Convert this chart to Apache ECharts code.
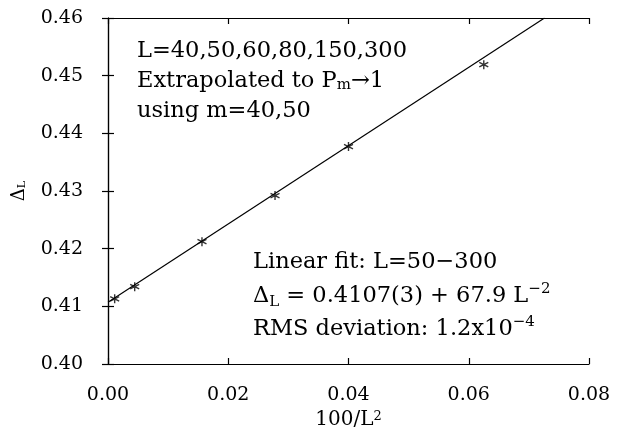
<!DOCTYPE html>
<html>
<head>
<meta charset="utf-8">
<script src="https://cdn.jsdelivr.net/npm/echarts@6/dist/echarts.min.js"></script>
<style>
html,body{margin:0;padding:0;background:#fff;}
#main{width:621px;height:431px;}
</style>
</head>
<body>
<div id="main"></div>
<script>
// Data
var xInvL2 = [0.00111, 0.00444, 0.01563, 0.02778, 0.04, 0.0625]; // 100/L^2 for L=300,150,80,60,50,40
var deltaL = [0.4113, 0.4134, 0.4212, 0.4292, 0.4377, 0.4519];
var fitX = [0, 0.0726];
var fitY = [0.4107, 0.46];
var xTicks = [0, 0.02, 0.04, 0.06, 0.08];
var yTicks = [0.40, 0.41, 0.42, 0.43, 0.44, 0.45, 0.46];

var FONT = 'DejaVu Serif';
var INK = '#000';
var pts = xInvL2.map(function (x, i) { return [x, deltaL[i]]; });
var fitPts = fitX.map(function (x, i) { return [x, fitY[i]]; });

var chart = echarts.init(document.getElementById('main'));
var axisLine = { show: true, lineStyle: { color: INK, width: 1.2 } };
var tick = { show: true, inside: true, length: 6, lineStyle: { color: INK, width: 1.2 } };

var AFS = 22.5;
function txt(x, y, text, rich) {
  return {
    type: 'text', left: x, top: y, z: 10,
    style: { text: text, rich: rich || undefined, fontFamily: FONT, fontSize: AFS, fill: INK }
  };
}
var richSub = {
  sub: { fontFamily: FONT, fontSize: 15, verticalAlign: 'bottom', fill: INK }
};
var richSup = {
  n: { fontFamily: FONT, fontSize: AFS, lineHeight: 28, fill: INK },
  sup: { fontFamily: FONT, fontSize: 15, verticalAlign: 'top', fill: INK },
  sub: { fontFamily: FONT, fontSize: 15, verticalAlign: 'bottom', fill: INK }
};

chart.setOption({
  animation: false,
  backgroundColor: '#fff',
  grid: { left: 108, right: 32, top: 18, bottom: 67, containLabel: false, outerBoundsMode: 'none' },
  xAxis: [{
    type: 'value', min: 0, max: 0.08, interval: 0.02,
    axisLine: axisLine, axisTick: tick, splitLine: { show: false },
    axisLabel: { margin: 22, fontFamily: FONT, fontSize: 19, color: INK,
      formatter: function (v) { return v.toFixed(2); } },
    name: '100/L{sup|2}', nameLocation: 'middle', nameGap: 46,
    nameTextStyle: { fontFamily: FONT, fontSize: 20, color: INK,
      rich: { sup: { fontFamily: FONT, fontSize: 13, verticalAlign: 'top', color: INK } } }
  }, {
    type: 'value', position: 'top', min: 0, max: 0.08, interval: 0.02,
    axisLine: axisLine, axisTick: tick, axisLabel: { show: false }, splitLine: { show: false }
  }],
  yAxis: [{
    type: 'value', min: 0.40, max: 0.46, interval: 0.01,
    axisLine: axisLine, axisTick: tick, splitLine: { show: false },
    axisLabel: { margin: 25, fontFamily: FONT, fontSize: 19, color: INK,
      formatter: function (v) { return v.toFixed(2); } },
    name: '{d|Δ}{s|L}', nameLocation: 'middle', nameGap: 80, nameRotate: 90,
    nameTextStyle: { color: INK,
      rich: {
        d: { fontFamily: FONT, fontSize: 18, color: INK },
        s: { fontFamily: FONT, fontSize: 11, verticalAlign: 'bottom', color: INK }
      } }
  }, {
    type: 'value', position: 'right', min: 0.40, max: 0.46, interval: 0.01,
    axisLine: axisLine, axisTick: tick, axisLabel: { show: false }, splitLine: { show: false }
  }],
  series: [{
    type: 'line', data: fitPts, showSymbol: false, symbol: 'none',
    lineStyle: { color: INK, width: 1.2 }, z: 2
  }, {
    type: 'scatter', data: pts,
    symbol: 'path://M5,0 L5,10 M0.67,2.5 L9.33,7.5 M0.67,7.5 L9.33,2.5',
    symbolSize: 9,
    itemStyle: { color: 'rgba(0,0,0,0)', borderColor: INK, borderWidth: 1.4 },
    z: 3
  }],
  graphic: [
    txt(137, 40, 'L=40,50,60,80,150,300'),
    txt(137, 70, 'Extrapolated to P{sub|m}→1', richSub),
    txt(137, 100, 'using m=40,50'),
    txt(253, 251, 'Linear fit: L=50−300'),
    txt(253, 282, '{n|Δ}{sub|L}{n| = 0.4107(3) + 67.9 L}{sup|−2}', richSup),
    txt(253, 315, '{n|RMS deviation: 1.2x10}{sup|−4}', richSup)
  ]
});
</script>
</body>
</html>
